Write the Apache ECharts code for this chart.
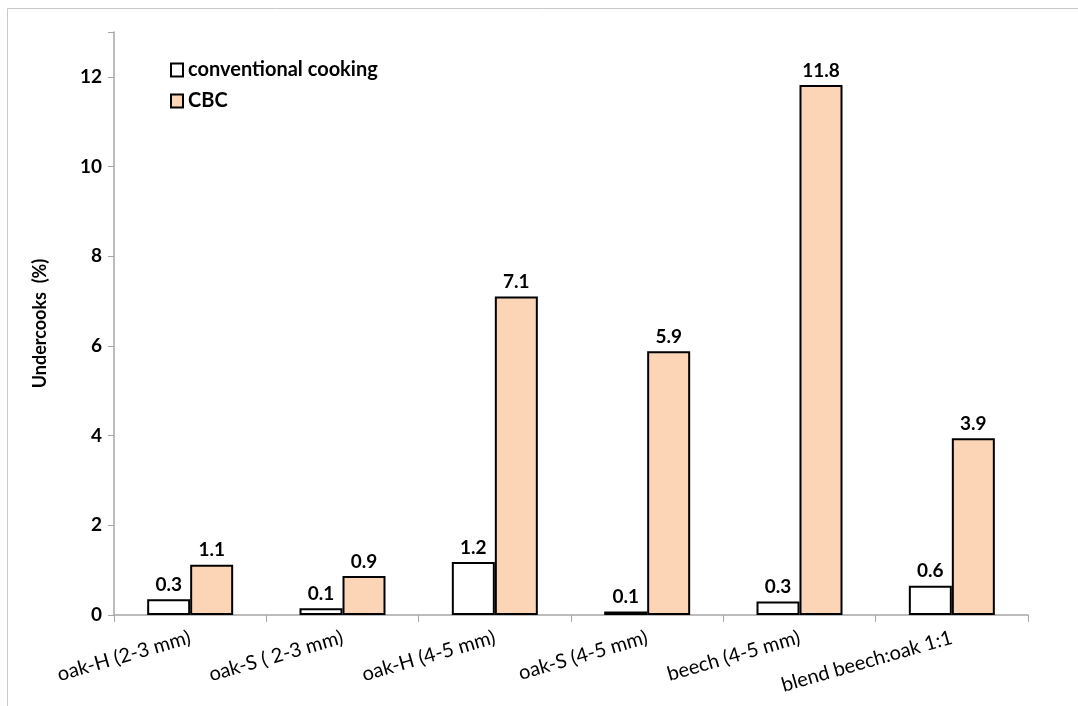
<!DOCTYPE html>
<html>
<head>
<meta charset="utf-8">
<script src="https://cdn.jsdelivr.net/npm/echarts@6/dist/echarts.min.js"></script>
<style>
  html, body { margin: 0; padding: 0; background: #fff; }
  #main { width: 1078px; height: 706px; }
</style>
</head>
<body>
<div id="main"></div>
<script>
// categories and values
var categories = ['oak-H (2-3 mm)', 'oak-S ( 2-3 mm)', 'oak-H (4-5 mm)', 'oak-S (4-5 mm)', 'beech (4-5 mm)', 'blend beech:oak 1:1'];
var conventional = [0.35, 0.15, 1.18, 0.08, 0.3, 0.65];
var conventionalLabels = ['0.3', '0.1', '1.2', '0.1', '0.3', '0.6'];
var cbc = [1.12, 0.87, 7.1, 5.88, 11.82, 3.94];
var cbcLabels = ['1.1', '0.9', '7.1', '5.9', '11.8', '3.9'];
var yTicks = [0, 2, 4, 6, 8, 10, 12];

var font = 'Lato, "Open Sans", sans-serif';
var chart = echarts.init(document.getElementById('main'));

function labelFrom(texts) {
    return {
        show: true,
        position: 'top',
        distance: 5,
        color: '#000',
        fontFamily: font,
        fontWeight: 'bold',
        fontSize: 19,
        formatter: function (p) { return texts[p.dataIndex]; }
    };
}

var option = {
    animation: false,
    graphic: [{
        type: 'rect',
        shape: { x: 7.5, y: 8.5, width: 1200, height: 800 },
        style: { fill: 'none', stroke: '#c8c8c8', lineWidth: 1 },
        silent: true
    }],
    legend: {
        orient: 'vertical',
        left: 165,
        top: 55,
        icon: 'rect',
        itemWidth: 12,
        itemHeight: 13,
        itemGap: 11,
        itemStyle: { borderColor: '#000', borderWidth: 2 },
        textStyle: { fontFamily: font, fontWeight: 'bold', fontSize: 20, color: '#000' },
        data: ['conventional cooking', 'CBC']
    },
    grid: { left: 114, right: 50, top: 32, bottom: 91 },
    xAxis: {
        type: 'category',
        data: categories,
        axisLine: { lineStyle: { color: '#a6a6a6', width: 1.5 } },
        axisTick: { show: true, length: 7, lineStyle: { color: '#a6a6a6' } },
        axisLabel: {
            rotate: 16,
            interval: 0,
            margin: 22,
            color: '#000',
            fontFamily: font,
            fontSize: 20
        }
    },
    yAxis: {
        type: 'value',
        min: 0,
        max: 13,
        interval: 2,
        name: 'Undercooks  (%)',
        nameLocation: 'middle',
        nameGap: 65,
        nameTextStyle: { fontFamily: font, fontWeight: 'bold', fontSize: 18, color: '#000' },
        axisLine: { show: true, lineStyle: { color: '#a6a6a6', width: 1.5 } },
        axisTick: { show: true, length: 6, lineStyle: { color: '#a6a6a6' } },
        splitLine: { show: false },
        axisLabel: {
            margin: 12,
            color: '#000',
            fontFamily: font,
            fontWeight: 'bold',
            fontSize: 19,
            formatter: function (v) { return yTicks.indexOf(v) >= 0 ? String(v) : ''; }
        }
    },
    series: [{
        name: 'conventional cooking',
        type: 'bar',
        data: conventional,
        barWidth: 43,
        barGap: '0%',
        itemStyle: { color: '#ffffff', borderColor: '#000', borderWidth: 2 },
        label: labelFrom(conventionalLabels)
    }, {
        name: 'CBC',
        type: 'bar',
        data: cbc,
        barWidth: 43,
        itemStyle: { color: '#fbd5b5', borderColor: '#000', borderWidth: 2 },
        label: labelFrom(cbcLabels)
    }]
};
chart.setOption(option);
</script>
</body>
</html>
